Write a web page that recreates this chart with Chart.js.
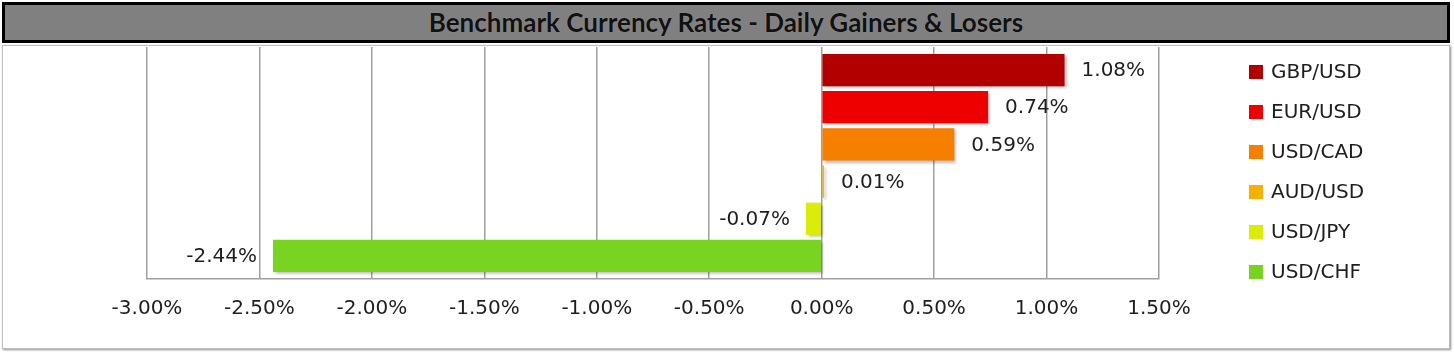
<!DOCTYPE html>
<html>
<head>
<meta charset="utf-8">
<script src="https://cdn.jsdelivr.net/npm/chart.js@4/dist/chart.umd.min.js"></script>
<style>
  html, body { margin: 0; padding: 0; background: #ffffff; }
  body { width: 1454px; height: 355px; position: relative; overflow: hidden; }
  #title {
    position: absolute; left: 2px; top: 2px; width: 1448px; height: 41px;
    box-sizing: border-box; border: 3px solid #000; background: #808080;
    font-family: Lato, "DejaVu Sans", sans-serif; font-weight: bold; font-size: 26px;
    color: #111; text-align: center; line-height: 34px;
    text-shadow: 0 0 1px rgba(255,255,255,0.35);
  }
  #panel {
    position: absolute; left: 2px; top: 45px; width: 1448px; height: 304px;
    box-sizing: border-box; border: 1px solid #bdbdbd;
    box-shadow: 1px 1px 2px rgba(0,0,0,0.45);
    background: #fff;
  }
  #c { position: absolute; left: 0; top: 0; }
</style>
</head>
<body>
<div id="title">Benchmark Currency Rates - Daily Gainers &amp; Losers</div>
<div id="panel"></div>
<canvas id="c" width="1454" height="355"></canvas>
<script>
// ---- data ----
const categories = ['GBP/USD', 'EUR/USD', 'USD/CAD', 'AUD/USD', 'USD/JPY', 'USD/CHF'];
const dailyChange = [1.08, 0.74, 0.59, 0.01, -0.07, -2.44];
const seriesColors = ['#b20000', '#ee0000', '#f77f00', '#f5b000', '#d9ec0a', '#78d420'];
const xMin = -3.0;
const xMax = 1.5;
const xStep = 0.5;

const FONT = '"DejaVu Sans", Verdana, sans-serif';

const datasets = categories.map((name, i) => ({
  label: name,
  data: [dailyChange[i]],
  backgroundColor: seriesColors[i],
  borderWidth: 0,
  categoryPercentage: 0.962,
  barPercentage: 0.867
}));

const shadowPlugin = {
  id: 'barShadow',
  beforeDatasetsDraw(chart) {
    const ctx = chart.ctx;
    ctx.save();
    ctx.shadowColor = 'rgba(0,0,0,0.28)';
    ctx.shadowBlur = 3;
    ctx.shadowOffsetX = 2;
    ctx.shadowOffsetY = 2;
  },
  afterDatasetsDraw(chart) {
    chart.ctx.restore();
  }
};

const valueLabels = {
  id: 'valueLabels',
  afterDatasetsDraw(chart) {
    const ctx = chart.ctx;
    ctx.save();
    ctx.font = '20px ' + FONT;
    ctx.fillStyle = '#1e1e1e';
    ctx.textBaseline = 'middle';
    chart.data.datasets.forEach((ds, i) => {
      const meta = chart.getDatasetMeta(i);
      meta.data.forEach((bar, j) => {
        const v = ds.data[j];
        const txt = v.toFixed(2) + '%';
        if (v >= 0) {
          ctx.textAlign = 'left';
          ctx.fillText(txt, bar.x + 17, bar.y + 1);
        } else {
          ctx.textAlign = 'right';
          ctx.fillText(txt, bar.x - 16, bar.y + 1);
        }
      });
    });
    ctx.restore();
  }
};

const sideLegend = {
  id: 'sideLegend',
  afterDraw(chart) {
    const ctx = chart.ctx;
    const area = chart.chartArea;
    const bx = area.right + 90;
    const y0 = area.top + 25;
    ctx.save();
    ctx.font = '20px ' + FONT;
    ctx.textBaseline = 'middle';
    ctx.textAlign = 'left';
    chart.data.datasets.forEach((ds, i) => {
      const y = y0 + i * 40;
      ctx.fillStyle = ds.backgroundColor;
      ctx.fillRect(bx, y - 7, 14, 14);
      ctx.fillStyle = '#1e1e1e';
      ctx.fillText(ds.label, bx + 22, y + 1);
    });
    ctx.restore();
  }
};

new Chart(document.getElementById('c'), {
  type: 'bar',
  data: { labels: [''], datasets: datasets },
  options: {
    indexAxis: 'y',
    responsive: false,
    animation: false,
    layout: { padding: { left: 147, right: 295, top: 47, bottom: 16 } },
    plugins: {
      legend: { display: false },
      title: { display: false },
      tooltip: { enabled: false }
    },
    scales: {
      x: {
        type: 'linear',
        min: xMin,
        max: xMax,
        ticks: {
          stepSize: xStep,
          callback: v => Number(v).toFixed(2) + '%',
          font: { family: FONT, size: 20 },
          color: '#1e1e1e',
          padding: 18,
          maxRotation: 0
        },
        grid: { color: '#a0a0a0', lineWidth: 1.5, drawTicks: false },
        border: { display: true, color: '#a0a0a0', width: 1.5 }
      },
      y: {
        type: 'category',
        display: false
      }
    }
  },
  plugins: [shadowPlugin, valueLabels, sideLegend]
});
</script>
</body>
</html>
